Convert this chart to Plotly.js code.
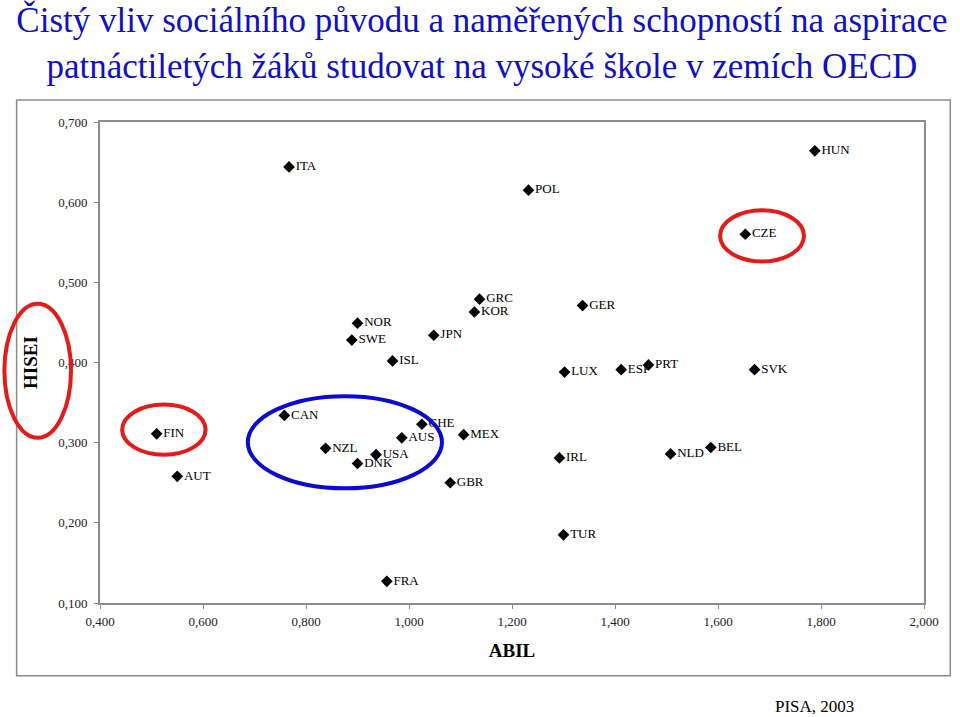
<!DOCTYPE html>
<html>
<head>
<meta charset="utf-8">
<script src="https://cdn.plot.ly/plotly-3.0.1.min.js"></script>
<style>html,body{margin:0;padding:0;background:#fff;}#chart{width:960px;height:717px;}</style>
</head>
<body>
<div id="chart"></div>
<script>
// Country codes
var countries = ['ITA','HUN','POL','CZE','NOR','SWE','ISL','JPN','GRC','KOR','GER','LUX','ESP','PRT','SVK','FIN','AUT','CAN','NZL','USA','DNK','AUS','CHE','MEX','GBR','IRL','NLD','BEL','TUR','FRA'];
// ABIL (x) values
var abil = [0.767,1.788,1.232,1.653,0.900,0.889,0.968,1.048,1.137,1.127,1.337,1.302,1.412,1.465,1.671,0.510,0.550,0.758,0.838,0.936,0.900,0.986,1.025,1.106,1.080,1.292,1.508,1.586,1.300,0.957];
// HISEI (y) values
var hisei = [0.644,0.664,0.615,0.560,0.449,0.428,0.402,0.434,0.479,0.463,0.471,0.388,0.391,0.397,0.391,0.311,0.258,0.334,0.293,0.285,0.274,0.306,0.323,0.310,0.250,0.281,0.286,0.294,0.185,0.127];

var serif = 'Liberation Serif, Times New Roman, serif';

var trace = {
  type: 'scatter',
  mode: 'markers+text',
  x: abil,
  y: hisei,
  text: countries,
  textposition: 'middle right',
  cliponaxis: false,
  textfont: {family: serif, size: 13, color: '#000'},
  marker: {symbol: 'diamond', size: 9, color: '#000'},
  hoverinfo: 'skip'
};

var layout = {
  width: 960,
  height: 717,
  margin: {l: 99.7, r: 36.3, t: 122, b: 113.7},
  paper_bgcolor: '#fff',
  plot_bgcolor: '#fff',
  showlegend: false,
  separators: ', ',
  font: {family: serif},
  title: {
    text: 'Čistý vliv sociálního původu a naměřených schopností na aspirace<br>patnáctiletých žáků studovat na vysoké škole v zemích OECD',
    font: {family: serif, size: 35, color: '#1010c4'},
    x: 0.502, xref: 'container', xanchor: 'center',
    y: 0.955, yref: 'container', yanchor: 'top'
  },
  xaxis: {
    range: [0.4, 2.0],
    tick0: 0.4, dtick: 0.2,
    tickformat: '.3f',
    showgrid: false, zeroline: false,
    showline: true, mirror: true, linecolor: '#8c8c8c', linewidth: 2,
    ticks: 'outside', ticklen: 4, tickcolor: '#8c8c8c', tickwidth: 1,
    tickfont: {family: serif, size: 13, color: '#222'},
    ticklabelstandoff: 1,
    title: {text: '<b>ABIL</b>', font: {family: serif, size: 19, color: '#000'}, standoff: 16},
    automargin: false
  },
  yaxis: {
    range: [0.1, 0.7],
    tick0: 0.1, dtick: 0.1,
    tickformat: '.3f',
    showgrid: false, zeroline: false,
    showline: true, mirror: true, linecolor: '#8c8c8c', linewidth: 2,
    ticks: 'outside', ticklen: 4, tickcolor: '#8c8c8c', tickwidth: 1,
    tickfont: {family: serif, size: 13, color: '#222'},
    ticklabelstandoff: 4,
    title: {text: '<b>HISEI</b>', font: {family: serif, size: 19, color: '#000'}, standoff: 16},
    automargin: false
  },
  shapes: [
    {type: 'rect', xref: 'paper', yref: 'paper', x0: -0.1012, x1: 1.0319, y0: -0.151, y1: 1.0457,
     line: {color: '#8c8c8c', width: 1.5}, fillcolor: 'rgba(0,0,0,0)', layer: 'below'},
    {type: 'circle', xref: 'x', yref: 'y', x0: 1.604, x1: 1.767, y0: 0.526, y1: 0.590,
     line: {color: '#e31b1b', width: 4}},
    {type: 'circle', xref: 'x', yref: 'y', x0: 0.443, x1: 0.605, y0: 0.285, y1: 0.3475,
     line: {color: '#e31b1b', width: 4}},
    {type: 'circle', xref: 'x', yref: 'y', x0: 0.687, x1: 1.064, y0: 0.243, y1: 0.358,
     line: {color: '#0a0ad2', width: 4}},
    {type: 'circle', xref: 'paper', yref: 'paper', x0: -0.116, x1: -0.0352, y0: 0.3434, y1: 0.622,
     line: {color: '#e31b1b', width: 4}}
  ],
  annotations: [
    {text: 'PISA, 2003', xref: 'paper', yref: 'paper', x: (813.8 - 99.7) / 824, y: (603.3 - 707) / 481.3,
     xanchor: 'center', yanchor: 'middle', showarrow: false,
     font: {family: serif, size: 17, color: '#000'}}
  ]
};

Plotly.newPlot('chart', [trace], layout, {displayModeBar: false, staticPlot: true});
</script>
</body>
</html>
